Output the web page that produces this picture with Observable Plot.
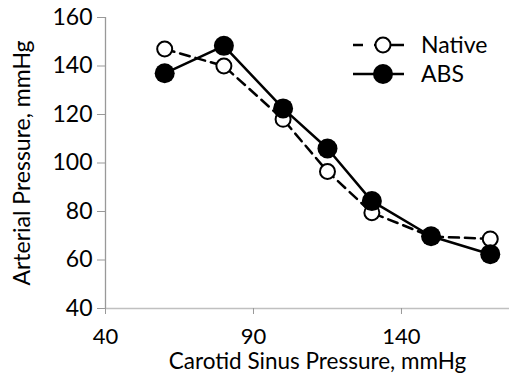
<!DOCTYPE html>
<html>
<head>
<meta charset="utf-8">
<script src="https://cdn.jsdelivr.net/npm/d3@7"></script>
<script src="https://cdn.jsdelivr.net/npm/@observablehq/plot@0.6"></script>
<style>
  html, body { margin: 0; padding: 0; background: #fff; }
  #chart svg { display: block; font-family: Lato, "Open Sans", sans-serif; }
</style>
</head>
<body>
<div id="chart"></div>
<script>
const carotidPressure = [60, 80, 100, 115, 130, 150, 170];
const nativeValues = [147, 140, 118, 96.5, 79.5, 69.7, 68.7];
const absValues = [137, 148.3, 122.5, 106, 84.3, 69.8, 62.4];
const seriesNames = ["Native", "ABS"];
const xTicks = [40, 90, 140];
const yTicks = [40, 60, 80, 100, 120, 140, 160];
const xLabel = "Carotid Sinus Pressure, mmHg";
const yLabel = "Arterial Pressure, mmHg";

const nativeData = carotidPressure.map((x, i) => ({x, y: nativeValues[i]}));
const absData = carotidPressure.map((x, i) => ({x, y: absValues[i]}));

const plot = Plot.plot({
  width: 509,
  height: 375,
  marginLeft: 105,
  marginTop: 17,
  marginBottom: 67,
  marginRight: 0,
  style: {fontFamily: "Lato, 'Open Sans', sans-serif", fontSize: "23px", color: "#000"},
  x: {domain: [40, 176.5]},
  y: {domain: [40, 160]},
  marks: [
    Plot.ruleY([40], {stroke: "#c0c0c0", strokeWidth: 1.3}),
    Plot.ruleX([40], {stroke: "#999", strokeWidth: 1.3}),
    Plot.axisX({ticks: xTicks, tickSize: 6, tickPadding: 14, stroke: "#999", label: null, fontSize: 22, fill: "#000"}),
    Plot.axisY({ticks: yTicks, tickSize: 8, tickPadding: 5, stroke: "#999", label: yLabel, labelAnchor: "center", labelOffset: 92, labelArrow: "none", fontSize: 23, fill: "#000"}),
    Plot.text([xLabel], {frameAnchor: "bottom", text: d => d, dx: 10, dy: 53, lineAnchor: "middle", fontSize: 22.5, fill: "#000"}),
    Plot.line(nativeData, {x: "x", y: "y", stroke: "#000", strokeWidth: 2.5, strokeDasharray: "10,6"}),
    Plot.dot(nativeData, {x: "x", y: "y", r: 7.5, fill: "#fff", stroke: "#000", strokeWidth: 2}),
    Plot.line(absData, {x: "x", y: "y", stroke: "#000", strokeWidth: 2.5}),
    Plot.dot(absData, {x: "x", y: "y", r: 10, fill: "#000", stroke: "#000", strokeWidth: 0})
  ]
});

// Legend (inside the plot, top right)
const svg = d3.select(plot);
const lg = svg.append("g").attr("class", "legend").attr("text-anchor", "start");
const legendRows = [
  {name: seriesNames[0], dash: "10,11,60", r: 7.5, fill: "#fff", sw: 2, y: 45},
  {name: seriesNames[1], dash: null, r: 10, fill: "#000", sw: 0, y: 74}
];
legendRows.forEach(row => {
  const g = lg.append("g");
  g.append("line").attr("x1", 353).attr("x2", 404).attr("y1", row.y).attr("y2", row.y)
    .attr("stroke", "#000").attr("stroke-width", 2.5)
    .attr("stroke-dasharray", row.dash);
  g.append("circle").attr("cx", 383).attr("cy", row.y).attr("r", row.r)
    .attr("fill", row.fill).attr("stroke", "#000").attr("stroke-width", row.sw);
  g.append("text").attr("x", 421).attr("y", row.y).attr("dy", "0.35em")
    .attr("text-anchor", "start")
    .attr("font-size", 23).attr("fill", "#000").text(row.name);
});

document.getElementById("chart").appendChild(plot);
</script>
</body>
</html>
